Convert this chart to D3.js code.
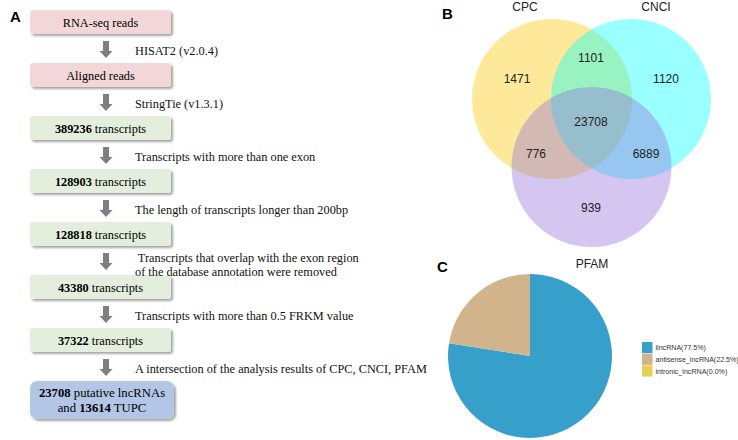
<!DOCTYPE html>
<html><head><meta charset="utf-8">
<script src="https://cdn.jsdelivr.net/npm/d3@7"></script>
<style>body{margin:0;background:#fff;}svg{display:block;}</style>
</head><body>
<script>
// ---- Data ----
const flowBold = ["", "", "389236", "128903", "128818", "43380", "37322", "23708"];
const flowText = ["RNA-seq reads", "Aligned reads", " transcripts", " transcripts", " transcripts", " transcripts", " transcripts", " putative lncRNAs"];
const flowKind = ["pink", "pink", "green", "green", "green", "green", "green", "blue"];
const stepLabels = [
  ["HISAT2 (v2.0.4)"],
  ["StringTie (v1.3.1)"],
  ["Transcripts with more than one exon"],
  ["The length of transcripts longer than 200bp"],
  [" Transcripts that overlap with the exon region", "of the database annotation were removed"],
  ["Transcripts with more than 0.5 FRKM value"],
  ["A intersection of the analysis results of CPC, CNCI, PFAM"]
];
const vennSets = ["CPC", "CNCI", "PFAM"];
const vennRegions = ["CPC", "CPC∩CNCI", "CNCI", "all", "CPC∩PFAM", "CNCI∩PFAM", "PFAM"];
const vennCounts = [1471, 1101, 1120, 23708, 776, 6889, 939];
const pieLabels = ["lincRNA", "antisense_lncRNA", "intronic_lncRNA"];
const pieValues = [77.5, 22.5, 0.0];

// ---- Chart ----
const W = 738, H = 440;
const svg = d3.select("body").append("svg").attr("width", W).attr("height", H);
const defs = svg.append("defs");
const f = defs.append("filter").attr("id", "sh").attr("x", "-10%").attr("y", "-20%").attr("width", "130%").attr("height", "160%");
f.append("feDropShadow").attr("dx", 2).attr("dy", 2).attr("stdDeviation", 1.3).attr("flood-color", "#000").attr("flood-opacity", 0.35);

const fillOf = {pink: "#f3d7d8", green: "#e3efdc", blue: "#b3c6e6"};
const serif = "'Liberation Serif','Times New Roman',serif";
const sans = "'Liberation Sans',Arial,sans-serif";
const FS = 12.3;

// Panel A
svg.append("text").attr("x", 10).attr("y", 22).attr("font-family", sans).attr("font-weight", "bold").attr("font-size", 15).text("A");
const yS = d3.scaleLinear().domain([0, 7]).range([10, 381]);
const boxH = i => flowKind[i] === "blue" ? 38 : 24;
const boxX = 30, boxW = i => flowKind[i] === "blue" ? 144 : 141;
const gA = svg.append("g");
flowText.forEach((t, i) => {
  const y = yS(i);
  gA.append("rect").attr("x", boxX).attr("y", y).attr("width", boxW(i)).attr("height", boxH(i))
    .attr("rx", flowKind[i] === "blue" ? 7 : 3).attr("fill", fillOf[flowKind[i]]).attr("filter", "url(#sh)");
  const cx = boxX + boxW(i) / 2;
  if (flowKind[i] === "blue") {
    const t1 = gA.append("text").attr("x", cx).attr("y", y + 16).attr("text-anchor", "middle").attr("font-family", serif).attr("font-size", FS + 0.4);
    t1.append("tspan").attr("font-weight", "bold").text(flowBold[i]);
    t1.append("tspan").text(t);
    const t2 = gA.append("text").attr("x", cx).attr("y", y + 31).attr("text-anchor", "middle").attr("font-family", serif).attr("font-size", FS + 0.4);
    t2.append("tspan").text("and ");
    t2.append("tspan").attr("font-weight", "bold").text("13614");
    t2.append("tspan").text(" TUPC");
  } else {
    const tx = gA.append("text").attr("x", cx).attr("y", y + 16.5).attr("text-anchor", "middle").attr("font-family", serif).attr("font-size", FS);
    if (flowBold[i]) tx.append("tspan").attr("font-weight", "bold").text(flowBold[i]);
    tx.append("tspan").text(t);
  }
});
stepLabels.forEach((lines, i) => {
  const top = yS(i) + boxH(i), bot = yS(i + 1);
  const ax = 106;
  const a0 = top + 7, a1 = bot - 5;
  const hh = 7;
  gA.append("path").attr("d", `M${ax-3},${a0}L${ax+3},${a0}L${ax+3},${a1-hh}L${ax+6.5},${a1-hh}L${ax},${a1}L${ax-6.5},${a1-hh}L${ax-3},${a1-hh}Z`)
    .attr("fill", "#7f7f7f");
  const mid = (top + bot) / 2;
  lines.forEach((l, j) => {
    const yy = lines.length === 1 ? mid + 6 : mid + 1.5 + j * 14;
    gA.append("text").attr("x", 135).attr("y", yy).attr("font-family", serif).attr("font-size", FS)
      .attr("xml:space", "preserve").style("white-space", "pre").attr("fill", "#111").text(l);
  });
});

// Panel B: Venn
svg.append("text").attr("x", 442).attr("y", 19).attr("font-family", sans).attr("font-weight", "bold").attr("font-size", 15).text("B");
const circ = [
  {name: "CPC", cx: 552, cy: 99, color: "rgb(250,200,0)", lx: 525},
  {name: "CNCI", cx: 631, cy: 99, color: "rgb(0,255,255)", lx: 656},
  {name: "PFAM", cx: 591.5, cy: 167, color: "rgb(147,112,219)"}
];
const rS = d3.scaleSqrt().domain([0, 1]).range([0, 80]);
circ.forEach(c => {
  svg.append("circle").attr("cx", c.cx).attr("cy", c.cy).attr("r", rS(1)).attr("fill", c.color).attr("fill-opacity", 0.4);
});
circ.slice(0, 2).forEach(c => {
  svg.append("text").attr("x", c.lx).attr("y", 11).attr("text-anchor", "middle").attr("font-family", sans).attr("font-size", 12).attr("fill", "#222").text(c.name);
});
const regionPos = {"CPC": [517, 79], "CPC∩CNCI": [591, 58], "CNCI": [666, 79], "all": [591, 122], "CPC∩PFAM": [536, 154], "CNCI∩PFAM": [646, 154], "PFAM": [591, 208]};
vennRegions.forEach((r, i) => {
  const p = regionPos[r];
  svg.append("text").attr("x", p[0]).attr("y", p[1] + 4).attr("text-anchor", "middle").attr("font-family", sans).attr("font-size", 12).attr("fill", "#222").text(vennCounts[i]);
});

// Panel C: Pie
svg.append("text").attr("x", 437).attr("y", 272).attr("font-family", sans).attr("font-weight", "bold").attr("font-size", 15).text("C");
svg.append("text").attr("x", 592).attr("y", 268).attr("text-anchor", "middle").attr("font-family", sans).attr("font-size", 12).attr("fill", "#222").text("PFAM");
const pieColors = d3.scaleOrdinal().domain(pieLabels).range(["#37a0ca", "#d2b48c", "#e6cf55"]);
const pie = d3.pie().sort(null).value(d => d.v);
const arcs = pie(pieLabels.map((l, i) => ({l, v: pieValues[i]})));
const arc = d3.arc().innerRadius(0).outerRadius(82);
const gP = svg.append("g").attr("transform", "translate(530,356)");
gP.selectAll("path").data(arcs).join("path").attr("d", arc).attr("fill", d => pieColors(d.data.l));
const lg = svg.append("g").attr("transform", "translate(642,342)");
pieLabels.forEach((l, i) => {
  lg.append("rect").attr("x", 0).attr("y", i * 11.7).attr("width", 10.5).attr("height", 11.2).attr("fill", pieColors(l));
  lg.append("text").attr("x", 13.5).attr("y", i * 11.7 + 8.3).attr("font-family", sans).attr("font-size", 7.1).attr("fill", "#333")
    .text(`${l}(${pieValues[i].toFixed(1)}%)`);
});
</script>
</body></html>
